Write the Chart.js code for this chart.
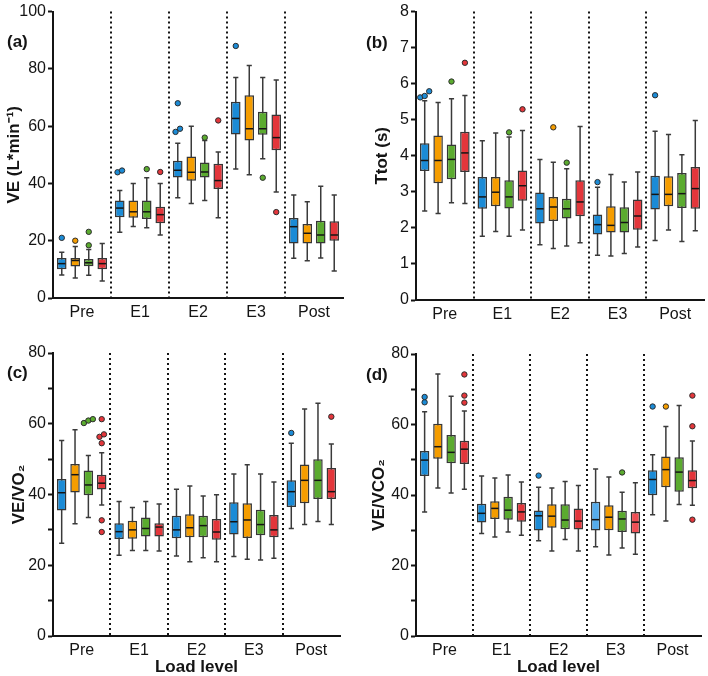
<!DOCTYPE html>
<html lang="en">
<head>
<meta charset="UTF-8" />
<title>Ventilation by load level</title>
<script src="https://cdn.jsdelivr.net/npm/chart.js"></script>
<style>
  body { margin: 0; background: #fff; }
  #fig { position: relative; width: 708px; height: 676px; }
  #fig canvas { position: absolute; }
</style>
</head>
<body>
<div id="fig">
  <canvas id="chartA" width="354" height="330" style="left:0;top:0"></canvas>
  <canvas id="chartB" width="354" height="330" style="left:354px;top:0"></canvas>
  <canvas id="chartC" width="354" height="346" style="left:0;top:330px"></canvas>
  <canvas id="chartD" width="354" height="346" style="left:354px;top:330px"></canvas>
</div>

<script>
  const loadLevels = ['Pre', 'E1', 'E2', 'E3', 'Post'];
  const seriesNames = ['Series 1', 'Series 2', 'Series 3', 'Series 4'];

  // each row = one load level: [low whisker, Q1, median, Q3, high whisker]
  // (a) VE
  const veBlue   = [[8, 10, 12, 14, 16], [23, 28.2, 31.4, 34, 37.5], [35, 42.1, 44.6, 47.9, 54], [45, 57.1, 62.7, 68.5, 77], [13.9, 19, 24.9, 27.9, 36]];
  const veOrange = [[7, 11, 13.1, 14, 18], [25, 28, 30.1, 34, 40], [33, 40.9, 43.9, 49.4, 60], [43, 55, 59.1, 70.8, 81.2], [13, 19, 22.6, 25.8, 33.6]];
  const veGreen  = [[7.9, 11.1, 12.3, 13.6, 16.9], [24.5, 27.6, 30.1, 34, 42], [34, 42.1, 44, 47.3, 55], [48.6, 57, 59.1, 65, 77], [14, 19, 22, 27, 39]];
  const veRed    = [[5.9, 10, 12, 14, 19], [22, 26.1, 29.1, 31.9, 40], [28, 38.1, 41, 46.9, 51], [37, 51.6, 56, 64.1, 76.1], [9.4, 20, 22, 26.8, 36]];
  const veBlueOut   = [[21], [43.9, 44.5], [58, 59.1, 68], [88], []];
  const veOrangeOut = [[20], [], [], [], []];
  const veGreenOut  = [[18.4, 23.1], [45], [56], [42], []];
  const veRedOut    = [[], [44], [62], [30], []];

  // (b) Ttot
  const ttBlue   = [[2.47, 3.58, 3.87, 4.35, 5.53], [1.77, 2.53, 2.86, 3.41, 4.42], [1.53, 2.12, 2.53, 2.98, 3.9], [1.24, 1.82, 2.09, 2.37, 3.13], [1.65, 2.51, 2.93, 3.45, 4.68]];
  const ttOrange = [[2.4, 3.24, 3.87, 4.56, 5.48], [1.9, 2.6, 2.99, 3.41, 4.63], [1.43, 2.19, 2.58, 2.86, 3.82], [1.22, 1.87, 2.07, 2.6, 3.48], [1.94, 2.6, 2.93, 3.43, 4.59]];
  const ttGreen  = [[2.7, 3.35, 3.9, 4.31, 5.58], [1.77, 2.54, 2.86, 3.32, 4.52], [1.5, 2.26, 2.53, 2.81, 3.64], [1.29, 1.87, 2.15, 2.57, 3.27], [1.62, 2.55, 2.95, 3.52, 4.03]];
  const ttRed    = [[2.68, 3.55, 4.08, 4.67, 5.67], [1.94, 2.75, 3.17, 3.59, 4.7], [1.59, 2.32, 2.72, 3.32, 4.81], [1.47, 1.95, 2.33, 2.79, 3.55], [1.92, 2.53, 3.09, 3.69, 4.98]];
  const ttBlueOut   = [[5.62, 5.66, 5.79], [], [], [3.27], [5.68]];
  const ttOrangeOut = [[], [], [4.79], [], []];
  const ttGreenOut  = [[6.06], [4.65], [3.81], [], []];
  const ttRedOut    = [[6.58], [5.29], [], [], []];

  // (c) VE/VO2
  const voBlue   = [[26.2, 35.5, 40.5, 44.4, 55.3], [22.8, 27.4, 29.5, 31.9, 38], [22.6, 27.6, 30, 34, 41.5], [22.5, 28.7, 32.3, 37.8, 45.8], [30.4, 36.5, 40.8, 44, 54.5]];
  const voOrange = [[31.7, 40.6, 45.6, 48.6, 58.3], [24.2, 27.5, 30, 32.6, 36.3], [21, 27.9, 30.6, 34.4, 42.4], [21.7, 27.7, 32.8, 37.5, 48.4], [31.5, 37.5, 44, 48.5, 64.2]];
  const voGreen  = [[33.5, 39.8, 42.7, 46.8, 51], [24.2, 28.1, 30.4, 33.5, 38], [22.1, 27.9, 31.2, 34, 39.6], [21.5, 28.5, 31.5, 35.7, 45.8], [32.4, 38.7, 44, 50, 65.8]];
  const voRed    = [[37, 41.4, 43.2, 45.6, 51.8], [24, 28.1, 30.8, 31.9, 37.3], [21, 27.2, 29.4, 33.1, 39.9], [22, 27.9, 30, 34.2, 43.5], [31.5, 38.7, 40.8, 47.5, 54.3]];
  const voBlueOut   = [[], [], [], [], [57.4]];
  const voOrangeOut = [[], [], [], [], []];
  const voGreenOut  = [[60.2, 60.9, 61.3], [], [], [], []];
  const voRedOut    = [[29.4, 32.7, 54.5, 56.3, 57, 61.3], [], [], [], [62]];

  // (d) VE/VCO2
  const vcBlue   = [[35.2, 45.4, 49.9, 52.5, 63.6], [29.1, 32.2, 34.8, 37.5, 45.4], [27, 29.9, 34.1, 35.6, 42.2], [25.3, 29.9, 33, 38.1, 47.4], [34.4, 39.9, 44.4, 47, 51.4]];
  const vcOrange = [[42, 50.3, 53.7, 60.2, 74.3], [28.1, 33.2, 36.2, 38.2, 44.8], [24.1, 30.7, 34, 37.4, 42], [23, 30, 33.7, 37.1, 45.1], [32.6, 42.2, 47.2, 50.9, 59.4]];
  const vcGreen  = [[40.6, 49, 52.1, 57, 68], [29.5, 33, 35.7, 39.5, 45.7], [27.4, 30.3, 32.9, 37.4, 43.8], [25, 29.5, 33.2, 35.5, 40.8], [37.3, 40.9, 46.5, 50.7, 65.4]];
  const vcRed    = [[41.6, 48.8, 53, 55.4, 63.8], [28.6, 32.4, 35.2, 37.7, 43.7], [24.1, 30.2, 32.6, 36.2, 42.7], [23.2, 29.1, 32.3, 35.2, 43.5], [37.1, 41.9, 44.1, 47, 55.3]];
  const vcBlueOut   = [[66.3, 67.8], [], [45.5], [], [65.1]];
  const vcOrangeOut = [[], [], [], [], [65.1]];
  const vcGreenOut  = [[], [], [], [46.4], []];
  const vcRedOut    = [[66.2, 68.2, 74.2], [], [], [], [33, 59.5, 68.2]];

  const colours = ['#1b8bd6', '#f59d00', '#5bab2f', '#e3363b'];
  const fontFamily = '"Liberation Sans", Arial, sans-serif';
  const ink = '#141414';

  // whiskers, medians, outliers and the panel letter
  function boxExtras(tag, tx, ty) {
    return {
      id: 'boxExtras',
      beforeDatasetsDraw(chart) {
        const ctx = chart.ctx, y = chart.scales.y;
        chart.data.datasets.forEach((ds, d) => {
          chart.getDatasetMeta(d).data.forEach((bar, i) => {
            const r = ds.stats[i];
            const cap = bar.width * 0.27;
            const yLo = y.getPixelForValue(r[0]), yHi = y.getPixelForValue(r[4]);
            ctx.save();
            ctx.strokeStyle = '#3a3a3a';
            ctx.lineWidth = 1.5;
            ctx.beginPath();
            ctx.moveTo(bar.x, yLo); ctx.lineTo(bar.x, yHi);
            ctx.moveTo(bar.x - cap, yLo); ctx.lineTo(bar.x + cap, yLo);
            ctx.moveTo(bar.x - cap, yHi); ctx.lineTo(bar.x + cap, yHi);
            ctx.stroke();
            ctx.restore();
          });
        });
      },
      afterDatasetsDraw(chart) {
        const ctx = chart.ctx, y = chart.scales.y;
        chart.data.datasets.forEach((ds, d) => {
          chart.getDatasetMeta(d).data.forEach((bar, i) => {
            const half = bar.width / 2 - 1;
            const ym = y.getPixelForValue(ds.stats[i][2]);
            ctx.save();
            ctx.strokeStyle = ink;
            ctx.lineWidth = 1.5;
            ctx.beginPath();
            ctx.moveTo(bar.x - half, ym); ctx.lineTo(bar.x + half, ym);
            ctx.stroke();

            // spread outliers that sit on top of each other
            const pts = ds.outliers[i].slice().sort((a, b) => a - b).map(v => y.getPixelForValue(v));
            const groups = [];
            pts.forEach(py => {
              const g = groups[groups.length - 1];
              if (g && Math.abs(g[g.length - 1] - py) < 4.8) g.push(py);
              else groups.push([py]);
            });
            ctx.fillStyle = colours[d];
            ctx.strokeStyle = '#2c2c2c';
            ctx.lineWidth = 1;
            groups.forEach(g => g.forEach((py, j) => {
              const dx = (j - (g.length - 1) / 2) * 4.5;
              ctx.beginPath();
              ctx.arc(bar.x + dx, py, 2.7, 0, Math.PI * 2);
              ctx.fill();
              ctx.stroke();
            }));
            ctx.restore();
          });
        });
      },
      afterDraw(chart) {
        const ctx = chart.ctx;
        ctx.save();
        ctx.font = 'bold 17px ' + fontFamily;
        ctx.fillStyle = ink;
        ctx.textBaseline = 'middle';
        ctx.fillText(tag, tx, ty);
        ctx.restore();
      }
    };
  }

  function drawPanel(id, p) {
    const datasets = p.stats.map((rows, k) => ({
      label: seriesNames[k],
      data: rows.map(r => [r[1], r[3]]),
      stats: rows,
      outliers: p.outliers[k],
      backgroundColor: (p.fills && p.fills[k]) || colours[k],
      borderColor: '#363636',
      borderWidth: 1.5,
      borderSkipped: false,
      categoryPercentage: 0.93,
      barPercentage: 0.71
    }));

    new Chart(document.getElementById(id), {
      type: 'bar',
      data: { labels: loadLevels, datasets: datasets },
      plugins: [boxExtras(p.tag, p.tagX, p.tagY)],
      options: {
        responsive: false,
        animation: false,
        layout: { padding: { top: p.top, right: p.right, bottom: 0, left: 0 } },
        plugins: { legend: { display: false }, tooltip: { enabled: false } },
        scales: {
          x: {
            afterFit: s => { s.height = p.xHeight; },
            ticks: { font: { family: fontFamily, size: 16 }, color: ink, padding: 5 },
            grid: {
              offset: true,
              drawTicks: false,
              lineWidth: 2,
              color: c => (c.index > 0 ? ink : 'rgba(0,0,0,0)'),
              borderDash: [2, 3]
            },
            border: { color: ink, width: 2, dash: [2, 3] },
            title: {
              display: !!p.xTitle,
              text: p.xTitle || '',
              color: ink,
              font: { family: fontFamily, size: 17, weight: 'bold', lineHeight: 1 },
              padding: { top: 0, bottom: 0 }
            }
          },
          y: {
            min: 0,
            max: p.max,
            afterFit: s => { s.width = p.yWidth; },
            ticks: {
              stepSize: p.step,
              font: { family: fontFamily, size: 16 },
              color: ink,
              padding: 2,
              callback: v => (Math.round(v * 100) % Math.round(p.labelEvery * 100) === 0 ? v : '')
            },
            grid: {
              drawOnChartArea: false,
              tickLength: 5,
              tickColor: ink,
              tickWidth: 2
            },
            border: { color: ink, width: 2 },
            title: {
              display: true,
              text: p.yTitle,
              color: ink,
              font: { family: fontFamily, size: 17, weight: 'bold', lineHeight: 1.2 },
              padding: { top: p.yTitlePad, bottom: 0 }
            }
          }
        }
      }
    });
  }

  drawPanel('chartA', {
    stats: [veBlue, veOrange, veGreen, veRed],
    outliers: [veBlueOut, veOrangeOut, veGreenOut, veRedOut],
    max: 100, step: 20, labelEvery: 20,
    yTitle: 'VE (L*min⁻¹)', yTitlePad: 4,
    yWidth: 53, xHeight: 32, top: 10, right: 11,
    tag: '(a)', tagX: 7, tagY: 42
  });

  drawPanel('chartB', {
    stats: [ttBlue, ttOrange, ttGreen, ttRed],
    outliers: [ttBlueOut, ttOrangeOut, ttGreenOut, ttRedOut],
    max: 8, step: 1, labelEvery: 1,
    yTitle: 'Ttot (s)', yTitlePad: 18,
    yWidth: 62, xHeight: 30, top: 11, right: 4,
    tag: '(b)', tagX: 12, tagY: 43
  });

  drawPanel('chartC', {
    stats: [voBlue, voOrange, voGreen, voRed],
    outliers: [voBlueOut, voOrangeOut, voGreenOut, voRedOut],
    max: 80, step: 10, labelEvery: 20,
    yTitle: 'VE/VO₂', yTitlePad: 9, xTitle: 'Load level',
    yWidth: 53, xHeight: 40, top: 23, right: 14,
    tag: '(c)', tagX: 7, tagY: 43
  });

  drawPanel('chartD', {
    stats: [vcBlue, vcOrange, vcGreen, vcRed],
    outliers: [vcBlueOut, vcOrangeOut, vcGreenOut, vcRedOut],
    max: 80, step: 10, labelEvery: 20,
    yTitle: 'VE/VCO₂', yTitlePad: 15, xTitle: 'Load level',
    yWidth: 62, xHeight: 40, top: 24, right: 7,
    fills: [[colours[0], colours[0], colours[0], '#55acec', colours[0]], null, null,
            [colours[3], colours[3], colours[3], '#f04f55', colours[3]]],
    tag: '(d)', tagX: 12, tagY: 45
  });
</script>
</body>
</html>
